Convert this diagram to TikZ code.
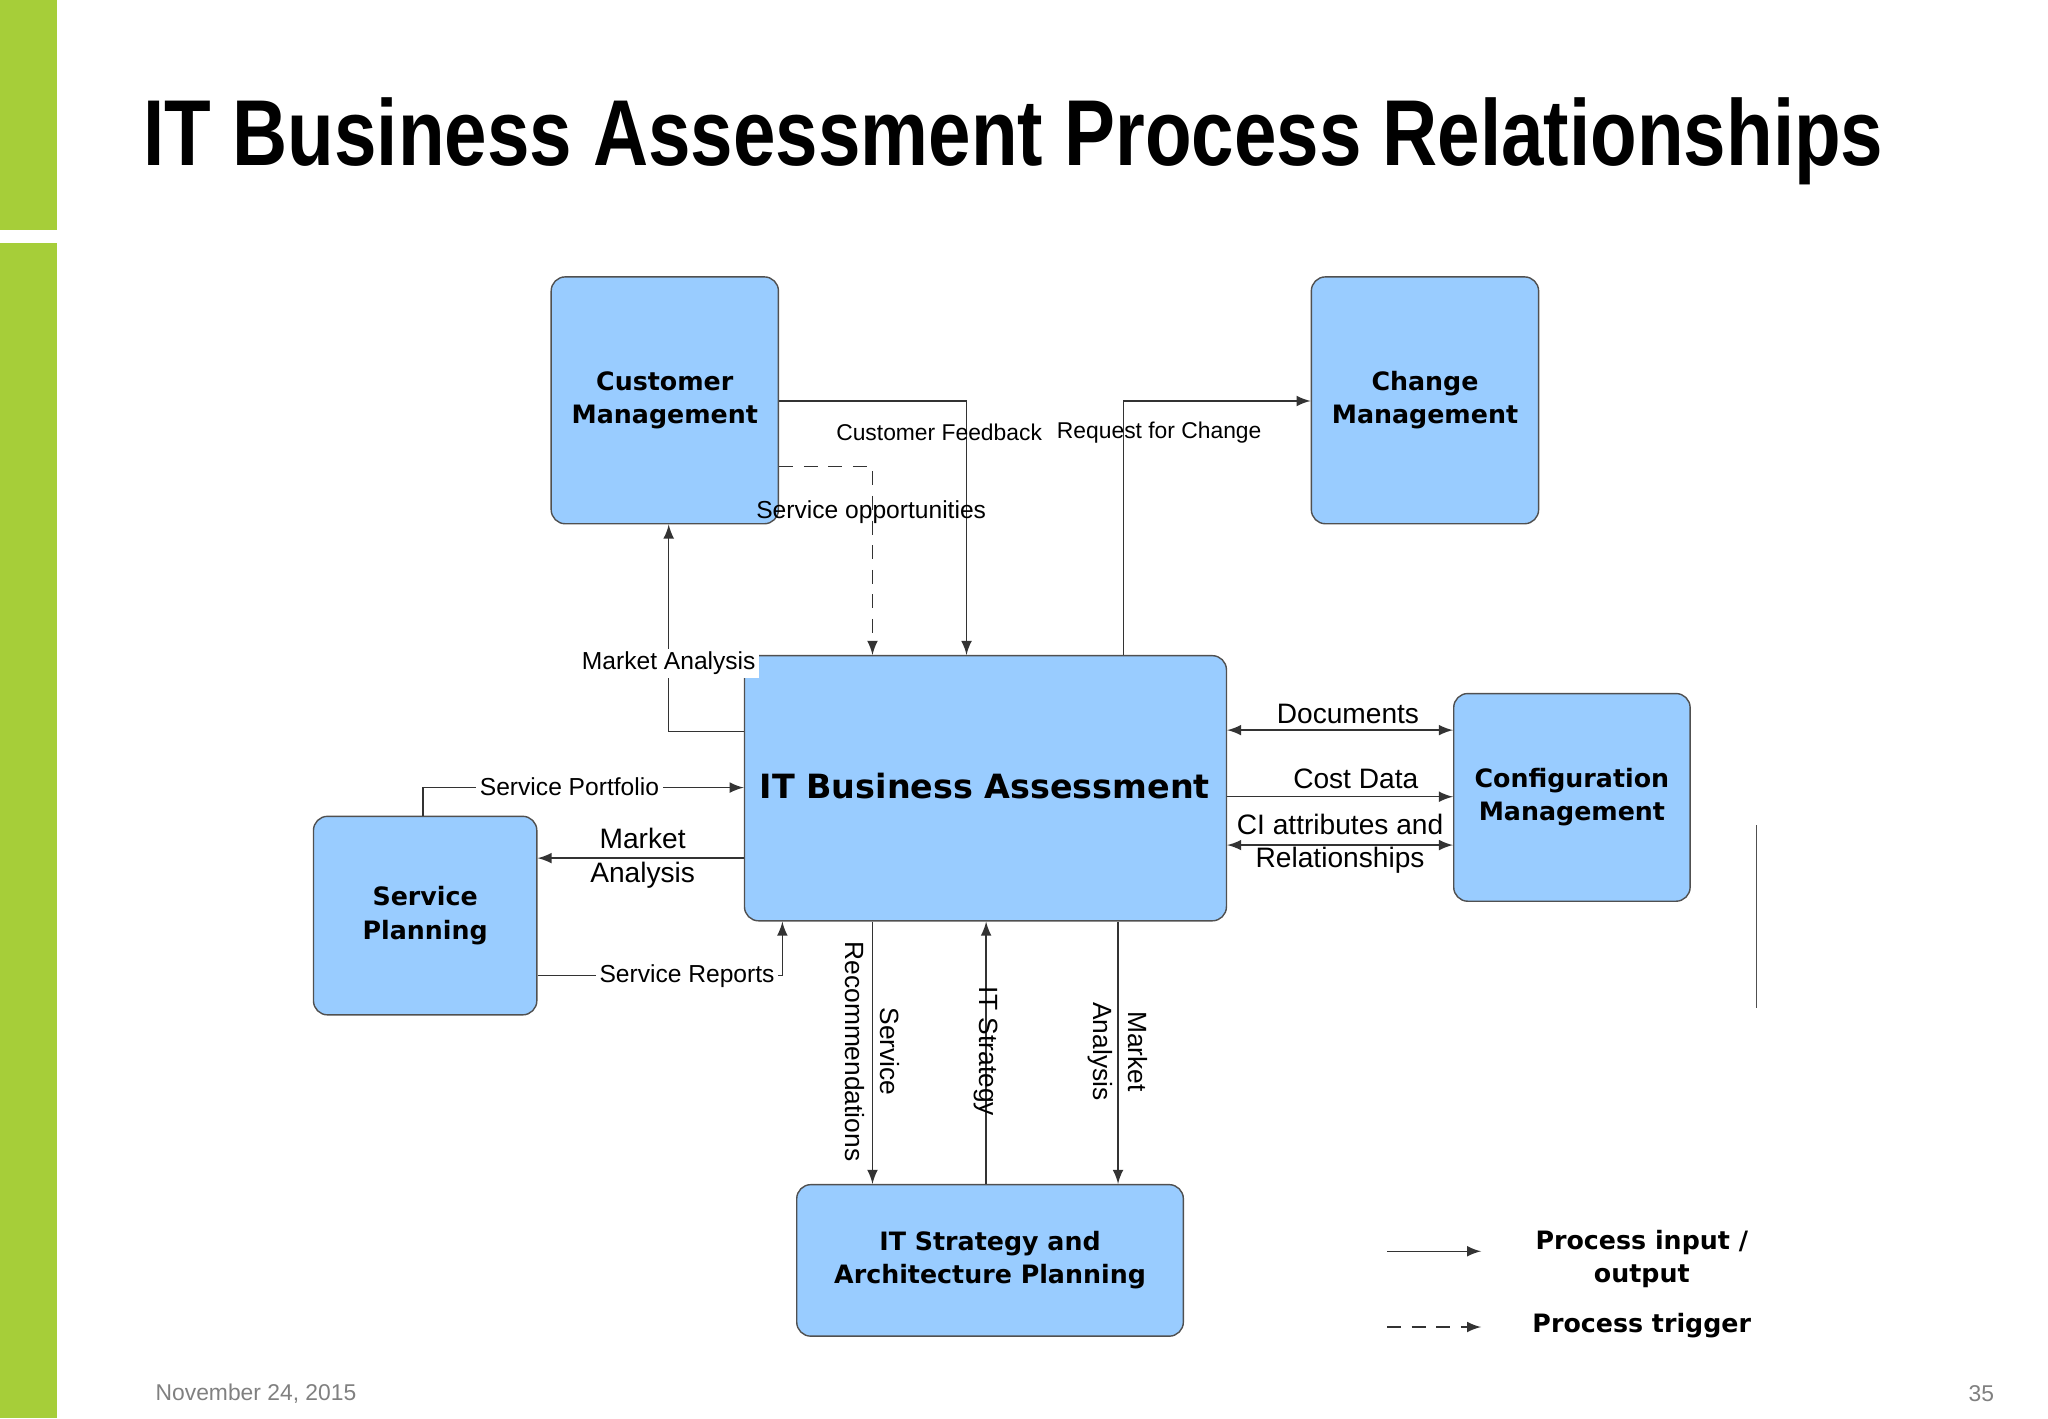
\documentclass[tikz,border=0pt]{standalone}
\usepackage{fontspec}
\setmainfont{Liberation Sans}
\newfontfamily\boxfont{DejaVu Sans}
\usetikzlibrary{positioning,calc}
\definecolor{mygreen}{RGB}{166,206,57}
\definecolor{myblue}{RGB}{153,204,255}
\definecolor{myborder}{RGB}{80,80,80}
\newlength\pxu
\setlength\pxu{0.01306cm}
\tikzset{>=latex}
\begin{document}
\begin{tikzpicture}[x=0.01306cm, y=-0.01306cm,
  proc/.style = {draw=myborder, fill=myblue, rounded corners=4pt, align=center,
                 font=\boxfont\bfseries\fontsize{7.2}{9.5}\selectfont, inner sep=0pt},
  lab/.style = {font=\fontsize{7}{8}\selectfont, inner sep=1pt},
  biglab/.style = {font=\fontsize{8}{9.5}\selectfont, inner sep=1pt, align=center},
  flow/.style = {draw=black!80, ->, thin},
  trig/.style = {draw=black!80, ->, thin, dash pattern=on 4pt off 3pt}]
\useasboundingbox (0,0) rectangle (1568,1086);
\fill[mygreen] (0,0) rectangle (44,176);
\fill[mygreen] (0,186) rectangle (44,1086);
\node (title) at (776,108) {\resizebox{495pt}{19.3pt}{\bfseries IT Business Assessment Process Relationships}};
% process boxes
\node[proc, minimum width=174\pxu, minimum height=189\pxu] (cust) at (509,306.5) {Customer\\Management};
\node[proc, minimum width=174\pxu, minimum height=189\pxu] (chg) at (1091,306.5) {Change\\Management};
\node[proc, minimum width=369\pxu, minimum height=203\pxu] (itba) at (754.5,603.5) {};
\node[font=\boxfont\bfseries\fontsize{9.5}{12}\selectfont] (itbal) at (754,602) {IT Business Assessment};
\node[proc, minimum width=181\pxu, minimum height=159\pxu] (cfg) at (1203.5,610.5) {Configuration\\Management};
\node[proc, minimum width=171\pxu, minimum height=152\pxu] (sp) at (325.5,701) {Service\\Planning};
\node[proc, minimum width=296\pxu, minimum height=116\pxu] (its) at (758,965) {IT Strategy and\\Architecture Planning};
\draw[myborder] (1345,632) -- (1345,772);
% top connectors
\draw[flow] (cust.east |- 0,307) -| (itba.north -| 740,0);
\draw[flow] (itba.north -| 860,0) |- (chg.west |- 0,307);
\draw[trig] (cust.east |- 0,357) -| (itba.north -| 668,0);
\draw[flow] (itba.west |- 0,560) -| (cust.south -| 512,0);
\node[lab, anchor=east, font=\fontsize{6.5}{8}\selectfont] (cfb) at (801,331) {Customer Feedback};
\node[lab, anchor=west, font=\fontsize{6.5}{8}\selectfont] (rfc) at (806,331) {Request for Change};
\node[lab] (sop) at (667,392) {Service opportunities};
\node[lab, fill=white] (mka1) at (512,508) {Market Analysis};
% left connectors
\draw[flow] (sp.north -| 324,0) |- (itba.west |- 0,603);
\node[lab, fill=white] (spf) at (436,602) {Service Portfolio};
\draw[flow] (itba.west |- 0,657) -- (sp.east |- 0,657);
\node[biglab] (mka2) at (492,657) {Market\\Analysis};
\draw[flow] (sp.east |- 0,747) -| (itba.south -| 599,0);
\node[lab, fill=white] (srp) at (526,747) {Service Reports};
% bottom connectors
\draw[flow] (itba.south -| 668,0) -- (its.north -| 668,0);
\node[lab, rotate=-90, align=center, font=\fontsize{7.5}{10}\selectfont] (srec) at (668,805) {Service\\Recommendations};
\draw[flow] (its.north -| 755,0) -- (itba.south -| 755,0);
\node[lab, rotate=-90, font=\fontsize{7.5}{9}\selectfont] (strat) at (755,805) {IT Strategy};
\draw[flow] (itba.south -| 856,0) -- (its.north -| 856,0);
\node[lab, rotate=-90, align=center, font=\fontsize{7.5}{10}\selectfont] (mka3) at (856,805) {Market\\Analysis};
% right connectors
\draw[flow, <->] (itba.east |- 0,559) -- (cfg.west |- 0,559);
\node[biglab, anchor=south] (doc) at (1032,557) {Documents};
\draw[flow] (itba.east |- 0,610) -- (cfg.west |- 0,610);
\node[biglab, anchor=south] (cost) at (1038,607) {Cost Data};
\draw[flow, <->] (itba.east |- 0,647) -- (cfg.west |- 0,647);
\node[biglab] (cia) at (1026,646) {CI attributes and\\Relationships};
% legend
\coordinate (l1a) at (1062,958); \coordinate (l1b) at (1134,958);
\coordinate (l2a) at (1062,1016); \coordinate (l2b) at (1134,1016);
\draw[flow] (l1a) -- (l1b);
\draw[trig] (l2a) -- (l2b);
\node[proc, draw=none, fill=none] (lg1) at (1257,964) {Process input /\\output};
\node[proc, draw=none, fill=none] (lg2) at (1257,1015) {Process trigger};
% footer
\node[font=\fontsize{6.5}{8}\selectfont, text=black!50] (date) at (196,1067) {November 24, 2015};
\node[font=\fontsize{6.5}{8}\selectfont, text=black!50] (pg) at (1517,1067) {35};
\end{tikzpicture}
\end{document}
